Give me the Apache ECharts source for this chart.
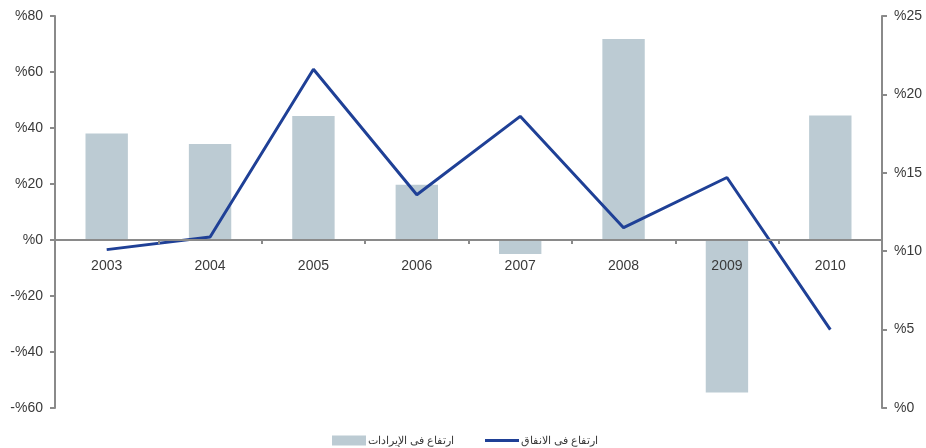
<!DOCTYPE html>
<html>
<head>
<meta charset="utf-8">
<script src="https://cdn.jsdelivr.net/npm/echarts@6/dist/echarts.min.js"></script>
<style>
html,body{margin:0;padding:0;background:#fff;}
#chart{width:926px;height:448px;}
</style>
</head>
<body>
<div id="chart"></div>
<script>
var categories = ['2003','2004','2005','2006','2007','2008','2009','2010'];
var revenueGrowth = [38, 34.3, 44.3, 19.7, -5, 71.8, -54.5, 44.5];
var spendingGrowth = [10.1, 10.9, 21.6, 13.6, 18.6, 11.5, 14.7, 5.0];
var revenueName = 'ارتفاع فى الإيرادات';
var spendingName = 'ارتفاع فى الانفاق';

function pct(v){ return v < 0 ? '-%' + Math.abs(v) : '%' + v; }

var font = 'Liberation Sans, Arial, sans-serif';
var txt = '#3a3a3a';
var axisCol = '#8a8a8a';
var legendText = {fontFamily: font, fontSize: 11, color: txt, padding: [0,0,0,-3]};

var chart = echarts.init(document.getElementById('chart'));
chart.setOption({
  animation: false,
  textStyle: {fontFamily: font},
  grid: {left: 55, right: 44, top: 16, bottom: 40, containLabel: false},
  legend: [
    {
      left: 327, top: 430,
      itemWidth: 34, itemHeight: 10,
      textStyle: legendText,
      data: [{name: revenueName, icon: 'rect'}]
    },
    {
      left: 480, top: 430,
      itemWidth: 34, itemHeight: 3,
      textStyle: legendText,
      data: [{name: spendingName, icon: 'rect'}]
    }
  ],
  xAxis: {
    type: 'category',
    data: categories,
    position: 'bottom',
    offset: -168,
    z: 10,
    axisLine: {onZero: false, lineStyle: {color: axisCol, width: 2}},
    axisTick: {show: true, length: 4, inside: false, lineStyle: {color: axisCol, width: 2}},
    axisLabel: {color: txt, fontSize: 14, margin: 19, fontFamily: font},
    splitLine: {show: false}
  },
  yAxis: [
    {
      type: 'value', min: -60, max: 80, interval: 20, position: 'left',
      axisLine: {show: true, lineStyle: {color: axisCol, width: 2}},
      axisTick: {show: true, length: 5, lineStyle: {color: axisCol, width: 2}},
      axisLabel: {color: txt, fontSize: 14, margin: 12, formatter: pct, fontFamily: font},
      splitLine: {show: false}
    },
    {
      type: 'value', min: 0, max: 25, interval: 5, position: 'right',
      axisLine: {show: true, lineStyle: {color: axisCol, width: 2}},
      axisTick: {show: true, length: 5, lineStyle: {color: axisCol, width: 2}},
      axisLabel: {color: txt, fontSize: 14, margin: 12, formatter: pct, fontFamily: font},
      splitLine: {show: false}
    }
  ],
  series: [
    {
      name: revenueName,
      type: 'bar',
      yAxisIndex: 0,
      data: revenueGrowth,
      barWidth: '41%',
      itemStyle: {color: '#bccbd3'},
      z: 1
    },
    {
      name: spendingName,
      type: 'line',
      yAxisIndex: 1,
      data: spendingGrowth,
      symbol: 'none',
      lineStyle: {color: '#1f4096', width: 3},
      itemStyle: {color: '#1f4096'},
      z: 5
    }
  ]
});
</script>
</body>
</html>
